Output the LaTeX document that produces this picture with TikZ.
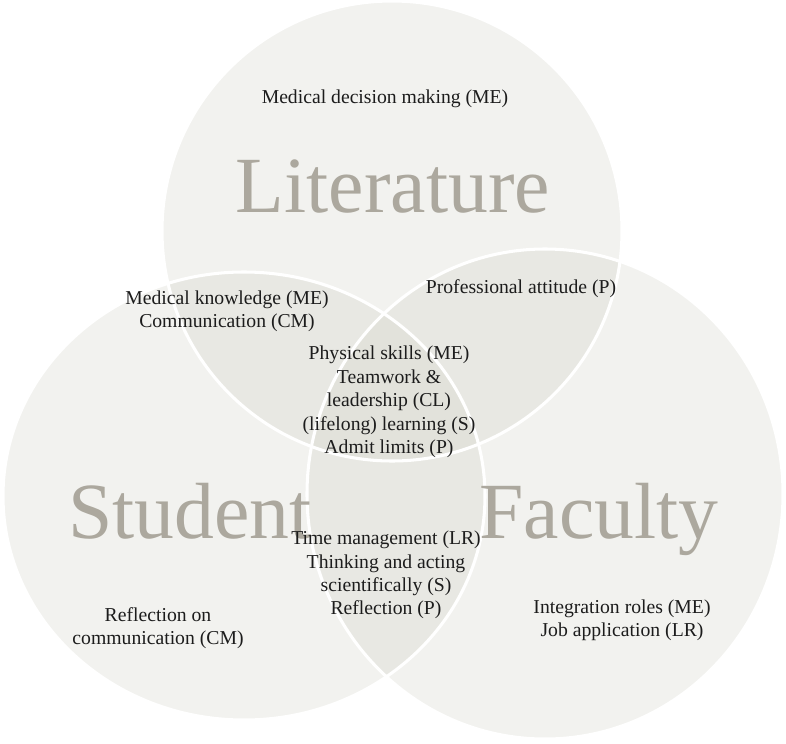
\documentclass[tikz,border=0pt]{standalone}
\usepackage{fontspec}
\setmainfont{Liberation Serif}
\usetikzlibrary{positioning}
\definecolor{shade}{RGB}{212,212,202}
\definecolor{taupe}{RGB}{172,168,158}
\definecolor{ink}{RGB}{28,28,28}

\begin{document}
\begin{tikzpicture}[
  x=0.3mm, y=-0.3mm,
  set/.style={fill=shade, fill opacity=0.31},
  rim/.style={draw=white, line width=2.6pt},
  big/.style={text=taupe, anchor=base, inner sep=0pt,
              font=\fontsize{68}{68}\selectfont},
  item/.style={text=ink, align=center, inner sep=0pt,
               font=\fontsize{16.8}{20}\selectfont},
]
\useasboundingbox (0,0) rectangle (786,743);

% the three sets
\coordinate (lit) at (392,231);
\coordinate (stu) at (244,496);
\coordinate (fac) at (545,494);

\foreach \c/\rx/\ry in {lit/230/230, stu/241/224, fac/238/245}
  \fill[set] (\c) ellipse [x radius=\rx, y radius=\ry];
\foreach \c/\rx/\ry in {lit/230/230, stu/241/224, fac/238/245}
  \draw[rim] (\c) ellipse [x radius=\rx, y radius=\ry];

\node[big] (litname) at (393,212) {Literature};
\node[big] (stuname) at (190,538) {Student};
\node[big] (facname) at (599,538) {Faculty};

\node[item] (decide) at (385,99)  {Medical decision making (ME)};
\node[item] (know)   at (227,311) {Medical knowledge (ME)\\Communication (CM)};
\node[item] (prof)   at (521,289) {Professional attitude (P)};
\node[item] (core)   at (389,402) {Physical skills (ME)\\Teamwork \&\\leadership (CL)\\(lifelong) learning (S)\\Admit limits (P)};
\node[item] (time)   at (386,575) {Time management (LR)\\Thinking and acting\\scientifically (S)\\Reflection (P)};
\node[item] (reflect) at (158,628) {Reflection on\\communication (CM)};
\node[item] (integ)  at (622,620) {Integration roles (ME)\\Job application (LR)};

\end{tikzpicture}
\end{document}
